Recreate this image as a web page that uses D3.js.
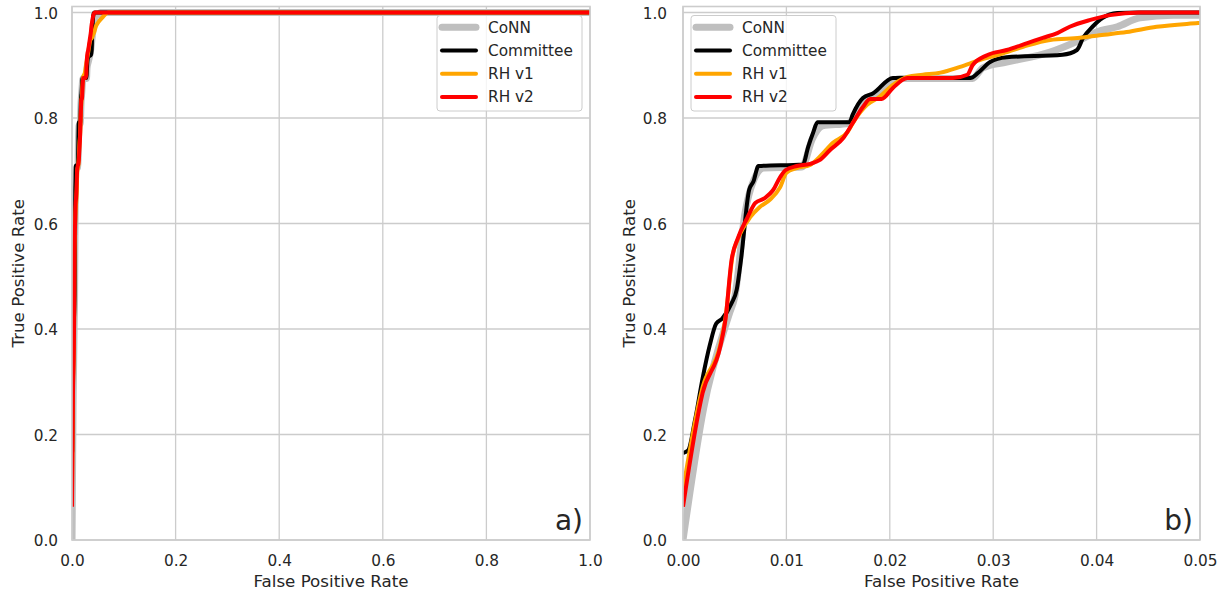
<!DOCTYPE html>
<html>
<head>
<meta charset="utf-8">
<script src="https://cdn.jsdelivr.net/npm/d3@7"></script>
<style>
  body { margin: 0; background: #fff; }
  svg { display: block; font-family: "DejaVu Sans", sans-serif; }
</style>
</head>
<body>
<svg id="chart" width="1227" height="594"></svg>
<script>
// ---- data ----
const seriesNames = ["CoNN", "Committee", "RH v1", "RH v2"];

const connFpr = [0, 0.002, 0.0045, 0.005, 0.006, 0.0068, 0.0078, 0.0115, 0.0125, 0.0135, 0.016, 0.0175, 0.019, 0.021, 0.028, 0.029, 0.0313, 0.0355, 0.0384, 0.040, 0.042, 0.0442, 0.0474, 0.05, 0.055, 1.0];
const connTpr = [0, 0.25, 0.43, 0.46, 0.62, 0.68, 0.705, 0.707, 0.76, 0.785, 0.79, 0.83, 0.85, 0.875, 0.875, 0.895, 0.906, 0.925, 0.948, 0.963, 0.973, 0.99, 0.995, 0.995, 1.0, 1.0];

const commFpr = [0, 0.0005, 0.00116, 0.0019, 0.0026, 0.0032, 0.0038, 0.0047, 0.0052, 0.0056, 0.0064, 0.0068, 0.0073, 0.0116, 0.0121, 0.0126, 0.013, 0.0161, 0.0164, 0.0174, 0.0184, 0.0203, 0.0278, 0.0285, 0.0297, 0.0313, 0.0367, 0.0381, 0.0387, 0.0396, 0.0406, 0.042, 0.044, 1.0];
const commTpr = [0.165, 0.17, 0.227, 0.307, 0.37, 0.41, 0.42, 0.449, 0.475, 0.53, 0.664, 0.679, 0.709, 0.712, 0.745, 0.773, 0.792, 0.792, 0.806, 0.838, 0.847, 0.876, 0.876, 0.885, 0.906, 0.915, 0.92, 0.929, 0.952, 0.973, 0.99, 0.999, 1.0, 1.0];

const rh1Fpr = [0, 0.0019, 0.0036, 0.0041, 0.0048, 0.0053, 0.0065, 0.0074, 0.0084, 0.0094, 0.010, 0.011, 0.0123, 0.0132, 0.0145, 0.0159, 0.0166, 0.0178, 0.019, 0.0203, 0.0217, 0.0232, 0.0249, 0.0268, 0.0287, 0.0307, 0.0329, 0.0355, 0.0384, 0.0403, 0.0429, 0.0458, 0.0498, 0.06, 0.07, 1.0];
const rh1Tpr = [0.095, 0.29, 0.37, 0.42, 0.54, 0.57, 0.612, 0.631, 0.645, 0.669, 0.696, 0.705, 0.711, 0.726, 0.753, 0.773, 0.796, 0.825, 0.84, 0.863, 0.878, 0.882, 0.886, 0.897, 0.91, 0.921, 0.935, 0.948, 0.952, 0.957, 0.963, 0.973, 0.98, 0.992, 1.0, 1.0];

const rh2Fpr = [0, 0.0019, 0.0036, 0.0041, 0.0047, 0.0053, 0.0062, 0.007, 0.0079, 0.0087, 0.0094, 0.0099, 0.011, 0.0123, 0.0132, 0.0142, 0.0155, 0.0164, 0.0174, 0.0181, 0.0192, 0.0203, 0.0217, 0.0261, 0.0275, 0.028, 0.0294, 0.0313, 0.0333, 0.0348, 0.0362, 0.0374, 0.0394, 0.0413, 0.0442, 1.0];
const rh2Tpr = [0.063, 0.279, 0.366, 0.417, 0.531, 0.572, 0.61, 0.639, 0.648, 0.663, 0.688, 0.701, 0.709, 0.713, 0.72, 0.739, 0.762, 0.79, 0.821, 0.836, 0.836, 0.857, 0.876, 0.876, 0.882, 0.9, 0.919, 0.929, 0.942, 0.952, 0.961, 0.973, 0.986, 0.995, 1.0, 1.0];

const yTicks = [0, 0.2, 0.4, 0.6, 0.8, 1.0];
const xTicksA = [0, 0.2, 0.4, 0.6, 0.8, 1.0];
const xTicksB = [0, 0.01, 0.02, 0.03, 0.04, 0.05];
const panelLabels = ["a)", "b)"];

// ---- styles ----
const colors = ["#bfbfbf", "#000000", "#ffa500", "#ff0000"];
const widths = [7, 4, 4, 4];
const gridColor = "#cccccc";
const textColor = "#262626";

const series = seriesNames.map((name, i) => {
  const f = [connFpr, commFpr, rh1Fpr, rh2Fpr][i];
  const t = [connTpr, commTpr, rh1Tpr, rh2Tpr][i];
  return { name, color: colors[i], width: widths[i], pts: f.map((x, j) => [x, t[j]]) };
});

const svg = d3.select("#chart");
const plotTop = 6.5, plotBottom = 540;

const panels = [
  { x0: 72, x1: 590, xmax: 1.0, ticks: xTicksA, fmt: d3.format(".1f"), label: panelLabels[0], legend: { x: 437, y: 15.5 } },
  { x0: 683, x1: 1200, xmax: 0.05, ticks: xTicksB, fmt: d3.format(".2f"), label: panelLabels[1], legend: { x: 691, y: 15.5 } }
];

panels.forEach((p, pi) => {
  const x = d3.scaleLinear().domain([0, p.xmax]).range([p.x0, p.x1]);
  const y = d3.scaleLinear().domain([0, 1.0114]).range([plotBottom, plotTop]);
  const g = svg.append("g");

  // grid
  g.append("g").selectAll("line").data(p.ticks).join("line")
    .attr("x1", d => x(d)).attr("x2", d => x(d))
    .attr("y1", plotTop).attr("y2", plotBottom)
    .attr("stroke", gridColor).attr("stroke-width", 1.3);
  g.append("g").selectAll("line").data(yTicks).join("line")
    .attr("x1", p.x0).attr("x2", p.x1)
    .attr("y1", d => y(d)).attr("y2", d => y(d))
    .attr("stroke", gridColor).attr("stroke-width", 1.3);

  // axes (labels only)
  const xAxis = g.append("g").attr("transform", `translate(0,${plotBottom})`)
    .call(d3.axisBottom(x).tickValues(p.ticks).tickFormat(p.fmt).tickSize(0).tickPadding(15));
  const yAxis = g.append("g").attr("transform", `translate(${p.x0},0)`)
    .call(d3.axisLeft(y).tickValues(yTicks).tickFormat(d3.format(".1f")).tickSize(0).tickPadding(pi === 0 ? 14 : 16));
  [xAxis, yAxis].forEach(a => {
    a.select(".domain").remove();
    a.selectAll("text").attr("fill", textColor).style("font-size", "15.3px").style("font-family", "DejaVu Sans");
  });
  yAxis.selectAll("text").attr("dy", "0.36em");
  xAxis.selectAll("text").attr("dy", "0.71em");

  // clip
  const cid = "clip" + pi;
  svg.append("clipPath").attr("id", cid).append("rect")
    .attr("x", p.x0).attr("y", plotTop).attr("width", p.x1 - p.x0).attr("height", plotBottom - plotTop);

  const line = d3.line().x(d => x(d[0])).y(d => y(d[1])).curve(d3.curveMonotoneX);
  g.append("g").attr("clip-path", `url(#${cid})`).selectAll("path").data(series).join("path")
    .attr("d", d => line(d.pts))
    .attr("fill", "none")
    .attr("stroke", d => d.color)
    .attr("stroke-width", d => d.width)
    .attr("stroke-linejoin", "round")
    .attr("stroke-linecap", "butt");

  // frame
  g.append("rect").attr("x", p.x0).attr("y", plotTop).attr("width", p.x1 - p.x0).attr("height", plotBottom - plotTop)
    .attr("fill", "none").attr("stroke", gridColor).attr("stroke-width", 1.6);

  // axis titles
  g.append("text").attr("x", (p.x0 + p.x1) / 2).attr("y", 587)
    .attr("text-anchor", "middle").attr("fill", textColor).style("font-size", "16.7px")
    .text("False Positive Rate");
  g.append("text").attr("transform", `translate(${p.x0 - 48},${(plotTop + plotBottom) / 2}) rotate(-90)`)
    .attr("text-anchor", "middle").attr("fill", textColor).style("font-size", "16.7px")
    .text("True Positive Rate");

  // panel label
  g.append("text").attr("x", p.x1 - 7).attr("y", 530)
    .attr("text-anchor", "end").attr("fill", textColor).style("font-size", "28px")
    .text(p.label);

  // legend
  const lg = g.append("g").attr("transform", `translate(${p.legend.x},${p.legend.y})`);
  lg.append("rect").attr("width", 145).attr("height", 95.5).attr("rx", 3)
    .attr("fill", "#fff").attr("fill-opacity", 0.8).attr("stroke", gridColor).attr("stroke-width", 1);
  const rows = lg.selectAll("g.row").data(series).join("g").attr("class", "row")
    .attr("transform", (d, i) => `translate(0,${11.7 + i * 23.3})`);
  rows.append("line").attr("x1", 5).attr("x2", 39).attr("y1", 0).attr("y2", 0)
    .attr("stroke", d => d.color).attr("stroke-width", d => d.width).attr("stroke-linecap", "round");
  rows.append("text").attr("x", 51).attr("y", 0).attr("dy", "0.35em")
    .attr("fill", textColor).style("font-size", "15.3px").text(d => d.name);
});
</script>
</body>
</html>
